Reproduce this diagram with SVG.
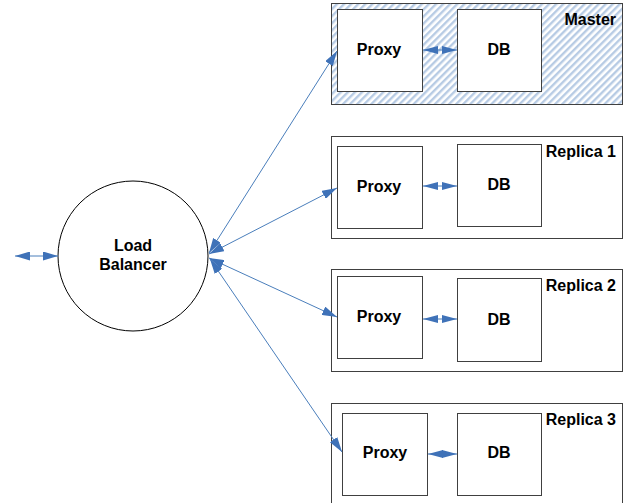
<svg xmlns="http://www.w3.org/2000/svg" width="628" height="503" viewBox="0 0 628 503">
<style>
.box{fill:#fff;stroke:#404040;stroke-width:1}
.outer{fill:#fff;stroke:#404040;stroke-width:1}
.t{font-family:"Liberation Sans",Arial,sans-serif;font-weight:bold;font-size:16px;fill:#000}
.c{text-anchor:middle}
.r{text-anchor:end}
.ln{stroke:#4a7ebb;stroke-width:1;fill:none;marker-start:url(#ah);marker-end:url(#ah)}
.in{stroke:#4a7ebb;stroke-width:1;fill:none;marker-start:url(#ahs);marker-end:url(#ahs)}
</style>
<defs>
<pattern id="hatch" width="5" height="5" patternUnits="userSpaceOnUse" patternTransform="rotate(45)">
<rect width="5" height="5" fill="#ffffff"/>
<rect width="2.4" height="5" fill="#b7cbe4"/>
</pattern>
<marker id="ah" viewBox="0 0 15 9" refX="15" refY="4.5" markerWidth="15" markerHeight="9" markerUnits="userSpaceOnUse" orient="auto-start-reverse">
<path d="M0,0 L15,4.5 L0,9 z" fill="#3f72b8"/>
</marker>
<marker id="ahs" viewBox="0 0 15 8" refX="15" refY="4" markerWidth="15" markerHeight="8" markerUnits="userSpaceOnUse" orient="auto-start-reverse">
<path d="M0,0 L15,4 L0,8 z" fill="#3f72b8"/>
</marker>
</defs>
<rect width="628" height="503" fill="#fff"/>

<g id="master">
<rect x="331.5" y="3.5" width="291" height="101" fill="url(#hatch)" stroke="#404040"/>
<text class="t r" x="616" y="25">Master</text>
</g>
<g id="master-proxy">
<rect class="box" x="337.5" y="9.5" width="85" height="82"/>
<text class="t c" x="379" y="55">Proxy</text>
</g>
<g id="master-db">
<rect class="box" x="457.5" y="9.5" width="84" height="82"/>
<text class="t c" x="499" y="55">DB</text>
</g>

<g id="replica1">
<rect class="outer" x="331.5" y="136.5" width="291" height="102"/>
<text class="t r" x="616" y="157">Replica 1</text>
</g>
<g id="replica1-proxy">
<rect class="box" x="337.5" y="146.5" width="85" height="82"/>
<text class="t c" x="379" y="192">Proxy</text>
</g>
<g id="replica1-db">
<rect class="box" x="457.5" y="144.5" width="84" height="82"/>
<text class="t c" x="499" y="190">DB</text>
</g>

<g id="replica2">
<rect class="outer" x="331.5" y="269.5" width="291" height="102"/>
<text class="t r" x="616" y="291">Replica 2</text>
</g>
<g id="replica2-proxy">
<rect class="box" x="337.5" y="276.5" width="85" height="82"/>
<text class="t c" x="379" y="322">Proxy</text>
</g>
<g id="replica2-db">
<rect class="box" x="457.5" y="278.5" width="84" height="83"/>
<text class="t c" x="499" y="325">DB</text>
</g>

<g id="replica3">
<rect class="outer" x="331.5" y="403.5" width="291" height="110"/>
<text class="t r" x="616" y="425">Replica 3</text>
</g>
<g id="replica3-proxy">
<rect class="box" x="342.5" y="413.5" width="85" height="82"/>
<text class="t c" x="385" y="458">Proxy</text>
</g>
<g id="replica3-db">
<rect class="box" x="457.5" y="413.5" width="84" height="82"/>
<text class="t c" x="499" y="458">DB</text>
</g>

<g id="load-balancer">
<circle cx="133" cy="256" r="75" fill="#fff" stroke="#000" stroke-width="1"/>
<text class="t c" x="133" y="251">Load</text>
<text class="t c" x="133" y="270">Balancer</text>
</g>

<g id="connectors">
<line class="ln" x1="15" y1="256" x2="58" y2="256"/>
<line class="ln" x1="209" y1="253" x2="337" y2="51"/>
<line class="ln" x1="209" y1="254" x2="337" y2="188"/>
<line class="ln" x1="209" y1="258" x2="337" y2="317"/>
<line class="ln" x1="210" y1="259" x2="342" y2="452"/>
<line class="in" x1="423" y1="50" x2="457" y2="50"/>
<line class="in" x1="423" y1="186" x2="457" y2="186"/>
<line class="in" x1="423" y1="319" x2="457" y2="319"/>
<line class="in" x1="428" y1="454" x2="457" y2="454"/>
</g>
</svg>
